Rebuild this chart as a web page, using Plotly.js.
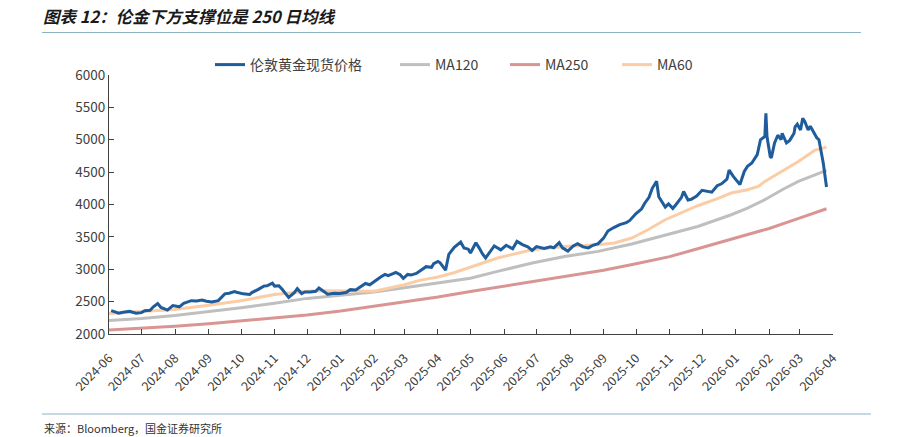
<!DOCTYPE html>
<html>
<head>
<meta charset="utf-8">
<script src="https://cdn.plot.ly/plotly-3.0.1.min.js"></script>
<style>
  html, body { margin: 0; padding: 0; background: #fff; }
  #chart { width: 897px; height: 437px; }
</style>
</head>
<body>
<div id="chart"></div>
<script>
// ---- data ----
const priceDates = [
"2024-06-03","2024-06-10","2024-06-14","2024-06-20","2024-06-26","2024-07-01","2024-07-04","2024-07-09","2024-07-12","2024-07-16",
"2024-07-19","2024-07-25","2024-07-30","2024-08-05","2024-08-09","2024-08-16","2024-08-21","2024-08-26","2024-08-30","2024-09-04",
"2024-09-10","2024-09-13","2024-09-16","2024-09-20","2024-09-25","2024-09-27","2024-10-03","2024-10-09","2024-10-11","2024-10-17",
"2024-10-22","2024-10-25","2024-10-30","2024-11-01","2024-11-05","2024-11-08","2024-11-12","2024-11-14","2024-11-19","2024-11-22",
"2024-11-26","2024-11-29","2024-12-04","2024-12-09","2024-12-12","2024-12-17","2024-12-20","2024-12-26","2024-12-31","2025-01-06",
"2025-01-10","2025-01-15","2025-01-21","2025-01-24","2025-01-28","2025-01-31","2025-02-03","2025-02-07","2025-02-11","2025-02-14",
"2025-02-19","2025-02-21","2025-02-25","2025-02-28","2025-03-04","2025-03-07","2025-03-12","2025-03-17","2025-03-21","2025-03-26",
"2025-03-28","2025-04-01","2025-04-03","2025-04-08","2025-04-11","2025-04-16","2025-04-22","2025-04-25","2025-04-29","2025-05-01",
"2025-05-06","2025-05-09","2025-05-12","2025-05-15","2025-05-20","2025-05-23","2025-05-29","2025-06-03","2025-06-09","2025-06-13",
"2025-06-18","2025-06-23","2025-06-27","2025-07-01","2025-07-08","2025-07-14","2025-07-17","2025-07-22","2025-07-25","2025-07-30",
"2025-08-04","2025-08-08","2025-08-13","2025-08-18","2025-08-22","2025-08-27","2025-09-01","2025-09-05","2025-09-10","2025-09-16",
"2025-09-22","2025-09-25","2025-10-01","2025-10-06","2025-10-09","2025-10-13","2025-10-16","2025-10-20","2025-10-22","2025-10-28",
"2025-10-31","2025-11-04","2025-11-07","2025-11-12","2025-11-14","2025-11-18","2025-11-21","2025-11-26","2025-12-01","2025-12-05",
"2025-12-10","2025-12-15","2025-12-19","2025-12-24","2025-12-26","2025-12-30","2026-01-05","2026-01-09","2026-01-12","2026-01-16",
"2026-01-21","2026-01-24","2026-01-27","2026-01-28","2026-01-29","2026-01-30","2026-02-02","2026-02-03","2026-02-06","2026-02-09",
"2026-02-12","2026-02-13","2026-02-17","2026-02-20","2026-02-24","2026-02-25","2026-02-27","2026-03-02","2026-03-04","2026-03-06",
"2026-03-09","2026-03-11","2026-03-13","2026-03-17","2026-03-19","2026-03-23","2026-03-26"];
const priceValues = [
2360,2320,2335,2350,2320,2330,2360,2365,2420,2470,
2410,2370,2440,2420,2475,2515,2510,2525,2505,2495,
2515,2575,2620,2630,2655,2645,2620,2610,2640,2690,
2740,2745,2785,2740,2745,2690,2600,2565,2635,2700,
2625,2650,2650,2660,2710,2645,2615,2630,2625,2640,
2685,2680,2740,2780,2760,2800,2835,2880,2920,2900,
2935,2950,2915,2860,2920,2910,2935,2995,3040,3030,
3085,3120,3100,2985,3230,3340,3420,3330,3310,3250,
3410,3330,3240,3175,3280,3360,3300,3370,3315,3430,
3380,3345,3290,3350,3320,3345,3330,3410,3330,3280,
3360,3395,3345,3330,3370,3395,3480,3590,3640,3690,
3720,3750,3860,3930,4020,4110,4250,4360,4120,3960,
4010,3940,4000,4110,4200,4070,4080,4130,4220,4210,
4190,4290,4320,4390,4530,4430,4310,4510,4590,4640,
4770,5000,5030,5050,5410,5050,4740,4720,4950,5070,
5000,5100,4950,4990,5100,5200,5240,5150,5330,5280,
5150,5210,5150,5030,5000,4640,4270];

const ma120Dates = ["2024-06-01","2024-07-01","2024-08-01","2024-09-01","2024-10-01","2024-11-01","2024-12-01","2025-01-01","2025-02-01","2025-03-01","2025-04-01","2025-05-01","2025-05-26","2025-06-27","2025-07-27","2025-08-27","2025-09-27","2025-10-28","2025-11-27","2025-12-28","2026-01-12","2026-01-28","2026-02-13","2026-02-28","2026-03-15","2026-03-26"];
const ma120Values = [2210,2240,2285,2345,2405,2475,2550,2600,2650,2715,2785,2860,2967,3096,3198,3276,3389,3533,3661,3842,3945,4074,4228,4357,4460,4526];

const ma250Dates = ["2024-06-01","2024-07-01","2024-08-01","2024-09-01","2024-10-01","2024-11-01","2024-12-01","2025-01-01","2025-02-01","2025-03-01","2025-04-01","2025-05-01","2025-06-01","2025-07-01","2025-08-01","2025-09-01","2025-10-01","2025-11-01","2025-12-01","2026-01-01","2026-02-01","2026-03-01","2026-03-26"];
const ma250Values = [2060,2087,2118,2157,2200,2245,2295,2355,2430,2500,2570,2655,2740,2820,2900,2985,3085,3195,3335,3480,3630,3790,3935];

const ma60Dates = ["2024-06-01","2024-07-01","2024-08-01","2024-09-01","2024-10-01","2024-11-01","2024-11-17","2024-12-01","2024-12-16","2025-01-01","2025-01-17","2025-02-01","2025-02-15","2025-03-01","2025-03-15","2025-04-01","2025-04-15","2025-04-28","2025-05-26","2025-06-27","2025-07-27","2025-08-27","2025-09-11","2025-09-27","2025-10-12","2025-10-28","2025-11-12","2025-11-27","2025-12-14","2025-12-28","2026-01-12","2026-01-22","2026-01-28","2026-02-13","2026-02-28","2026-03-15","2026-03-26"];
const ma60Values = [2318,2345,2380,2445,2515,2610,2640,2660,2668,2665,2658,2660,2710,2761,2828,2880,2942,3019,3173,3302,3352,3378,3405,3482,3610,3765,3878,3981,4084,4177,4228,4279,4357,4511,4665,4835,4887];

const seriesNames = ["伦敦黄金现货价格", "MA120", "MA250", "MA60"];
const seriesColors = ["#1F5C9C", "#BFBFBF", "#D99594", "#FBCDA6"];
const yTickValues = [2000, 2500, 3000, 3500, 4000, 4500, 5000, 5500, 6000];

const titleText = "图表 12：伦金下方支撑位是 250 日均线";
const sourceText = "来源：Bloomberg，国金证券研究所";

// ---- chart ----
const FONT = "'Noto Sans CJK SC', 'Noto Sans', sans-serif";
const W = 897, H = 437, L = 109, R = 64, T = 75, B = 103;
const pw = W - L - R, ph = H - T - B;
const px2x = p => (p - L) / pw;
const py2y = p => (H - B - p) / ph;

const legendIds = ["legend", "legend2", "legend3", "legend4"];
const legendLeftPx = [210, 395, 505, 617];

const mk = (x, y, i) => ({
  x: x, y: y, name: seriesNames[i], type: "scatter", mode: "lines",
  line: { color: seriesColors[i], width: 3 },
  legend: legendIds[i], hoverinfo: "skip"
});
const traces = [
  mk(priceDates, priceValues, 0),
  mk(ma120Dates, ma120Values, 1),
  mk(ma250Dates, ma250Values, 2),
  mk(ma60Dates, ma60Values, 3)
];
// draw order: MAs below the price line
const drawOrder = [traces[1], traces[2], traces[3], traces[0]];

const layout = {
  width: W, height: H,
  margin: { l: L, r: R, t: T, b: B, pad: 0 },
  paper_bgcolor: "#ffffff", plot_bgcolor: "#ffffff",
  font: { family: FONT, color: "#404040", size: 13 },
  title: {
    text: titleText,
    font: { family: FONT, size: 16.5, color: "#1a1a1a", weight: "bold", style: "italic" },
    xref: "container", yref: "container", x: 43 / W, xanchor: "left",
    y: 1 - 17 / H, yanchor: "middle"
  },
  showlegend: true,
  xaxis: {
    type: "date", range: ["2024-06-01", "2026-04-01"],
    tick0: "2024-06-01", dtick: "M1", tickformat: "%Y-%m", tickangle: -45,
    ticks: "inside", ticklen: 5, tickcolor: "#404040", tickwidth: 1,
    ticklabelstandoff: 11,
    showline: true, linecolor: "#404040", linewidth: 1,
    showgrid: false, zeroline: false,
    tickfont: { family: FONT, size: 12.5, color: "#404040" }, automargin: false
  },
  yaxis: {
    range: [2000, 6000], tickvals: yTickValues, ticktext: yTickValues.map(String),
    ticks: "inside", ticklen: 5, tickcolor: "#404040", tickwidth: 1,
    showline: true, linecolor: "#404040", linewidth: 1,
    showgrid: false, zeroline: false,
    tickfont: { family: FONT, size: 13.5, color: "#404040" }, automargin: false
  },
  shapes: [
    { type: "line", xref: "paper", yref: "paper", x0: px2x(42), x1: px2x(861), y0: py2y(32.5), y1: py2y(32.5),
      line: { color: "#8DB3C7", width: 1 } },
    { type: "line", xref: "paper", yref: "paper", x0: px2x(42), x1: px2x(871), y0: py2y(414), y1: py2y(414),
      line: { color: "#8DB3C7", width: 1 } }
  ],
  annotations: [
    { text: sourceText, xref: "paper", yref: "paper", x: px2x(42), y: py2y(428), xanchor: "left", yanchor: "middle",
      showarrow: false, font: { family: FONT, size: 11, color: "#333333" } }
  ]
};
legendIds.forEach((id, i) => {
  layout[id] = {
    orientation: "h", x: px2x(legendLeftPx[i]), xanchor: "left", y: py2y(65), yanchor: "middle",
    font: { family: FONT, size: 14, color: "#404040" },
    bgcolor: "rgba(0,0,0,0)", itemclick: false, itemdoubleclick: false
  };
});

Plotly.newPlot("chart", drawOrder, layout, { staticPlot: true, displayModeBar: false });
</script>
</body>
</html>
